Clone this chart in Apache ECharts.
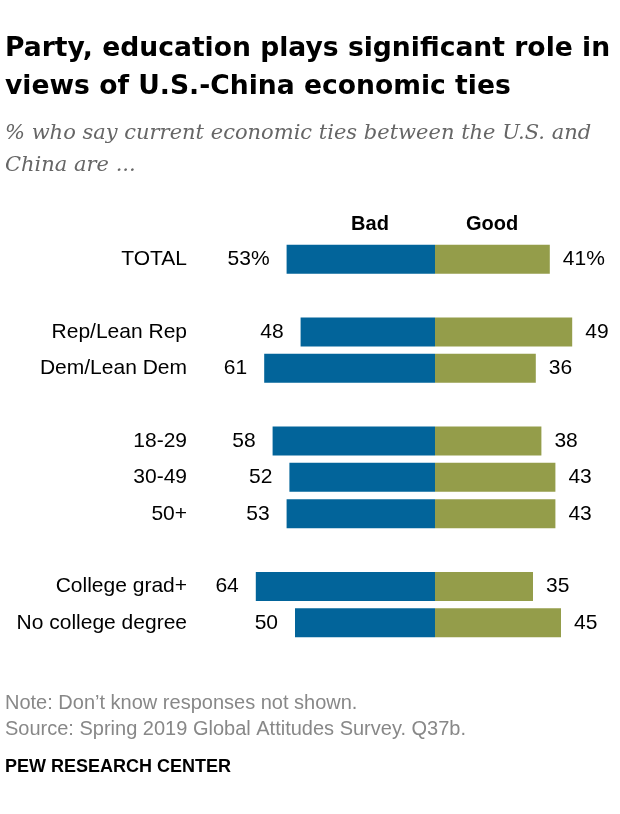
<!DOCTYPE html>
<html>
<head>
<meta charset="utf-8">
<script src="https://cdn.jsdelivr.net/npm/echarts@6/dist/echarts.min.js"></script>
<style>
  html, body { margin: 0; padding: 0; background: #fff; }
  #chart { width: 620px; height: 814px; }
</style>
</head>
<body>
<div id="chart"></div>
<script>
// rows top to bottom, blank names are the spacer rows between groups
var rows = ['TOTAL', ' ', 'Rep/Lean Rep', 'Dem/Lean Dem', '  ', '18-29', '30-49', '50+', '   ', 'College grad+', 'No college degree'];
var bad = [53, null, 48, 61, null, 58, 52, 53, null, 64, 50];
var good = [41, null, 49, 36, null, 38, 43, 43, null, 35, 45];

var BLUE = '#02649a';
var OLIVE = '#949d4a';
var FONT = '"Liberation Sans", Arial, sans-serif';
var TITLE_FONT = 'bold 26.6px "DejaVu Sans", sans-serif';
var SUB_FONT = 'italic 21px "DejaVu Serif", serif';

var ec = echarts.init(document.getElementById('chart'));

function fmt(p) {
    var v = Math.abs(p.value);
    return p.dataIndex === 0 ? v + '%' : v;
}

function txt(x, y, s, font, fill, align) {
    return {
        type: 'text', x: x, y: y,
        style: { text: s, font: font, fill: fill, textAlign: align || 'left', textVerticalAlign: 'middle' }
    };
}

var option = {
    backgroundColor: '#fff',
    animation: false,
    grid: {
        left: 239,
        right: 17,
        top: 241,
        height: 400
    },
    xAxis: {
        type: 'value',
        min: -70,
        max: 60,
        show: false
    },
    yAxis: {
        type: 'category',
        inverse: true,
        data: rows,
        axisLine: { show: false },
        axisTick: { show: false },
        splitLine: { show: false },
        axisLabel: {
            margin: 52,
            color: '#000',
            fontSize: 21,
            fontFamily: FONT
        }
    },
    series: [{
        name: 'Bad',
        type: 'bar',
        barWidth: 29,
        barGap: '-100%',
        data: bad.map(function(v) { return v == null ? null : -v; }),
        itemStyle: { color: BLUE },
        label: {
            show: true,
            position: 'left',
            distance: 17,
            color: '#000',
            fontSize: 21,
            fontFamily: FONT,
            formatter: fmt
        }
    }, {
        name: 'Good',
        type: 'bar',
        barWidth: 29,
        data: good,
        itemStyle: { color: OLIVE },
        label: {
            show: true,
            position: 'right',
            distance: 13,
            color: '#000',
            fontSize: 21,
            fontFamily: FONT,
            formatter: fmt
        }
    }],
    graphic: [
        txt(5, 49, 'Party, education plays significant role in', TITLE_FONT, '#000'),
        txt(5, 87, 'views of U.S.-China economic ties', TITLE_FONT, '#000'),
        txt(5, 134, '% who say current economic ties between the U.S. and', SUB_FONT, '#666'),
        txt(5, 166, 'China are ...', SUB_FONT, '#666'),
        txt(370, 224, 'Bad', 'bold 20px ' + FONT, '#000', 'center'),
        txt(492, 224, 'Good', 'bold 20px ' + FONT, '#000', 'center'),
        txt(5, 703, 'Note: Don\u2019t know responses not shown.', '20px ' + FONT, '#888'),
        txt(5, 729, 'Source: Spring 2019 Global Attitudes Survey. Q37b.', '20px ' + FONT, '#888'),
        txt(5, 767, 'PEW RESEARCH CENTER', 'bold 18px ' + FONT, '#000')
    ]
};

ec.setOption(option);
</script>
</body>
</html>
